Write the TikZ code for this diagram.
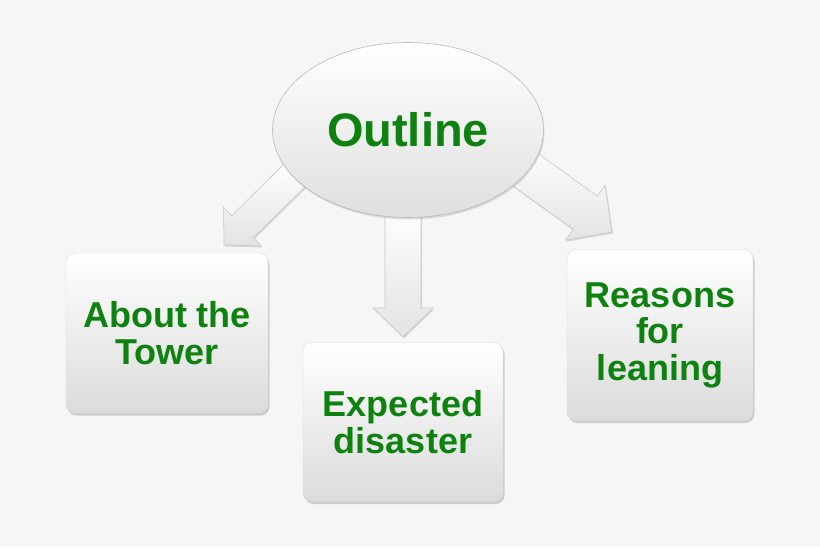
\documentclass[tikz,border=0pt]{standalone}
\usepackage{fontspec}
\setmainfont{Liberation Sans}
\usepackage{tikz}
\usetikzlibrary{shapes,shadows,calc}

\definecolor{bggrey}{HTML}{F6F6F6}
\definecolor{topicgreen}{HTML}{0E820E}

% block arrow: start, tip, shaft half width, head half width, head length
\newcommand{\blockarrow}[5]{%
  \coordinate (#1h) at ($(#2)!#5!(#1)$);
  \path[barrow] ($(#1)!#3!90:(#2)$) -- ($(#1h)!#3!90:(#2)$) -- ($(#1h)!#4!90:(#2)$)
    -- (#2) -- ($(#1h)!#4!-90:(#2)$) -- ($(#1h)!#3!-90:(#2)$) -- ($(#1)!#3!-90:(#2)$) -- cycle;
}

\begin{document}
\begin{tikzpicture}[x=1pt,y=-1pt]
    \tikzstyle{barrow}=[draw=gray!45,line width=0.6pt,top color=white,bottom color=gray!22,
      drop shadow={shadow xshift=1pt,shadow yshift=-1.5pt,opacity=0.25}]
    \tikzstyle{topic}=[rectangle,rounded corners=9pt,draw=gray!30,line width=0.4pt,
      top color=white,bottom color=gray!28,align=center,text=topicgreen,
      font=\bfseries\fontsize{36}{36.5}\selectfont,
      drop shadow={shadow xshift=1.5pt,shadow yshift=-2.5pt,opacity=0.35}]
    \tikzstyle{hub}=[ellipse,draw=gray!55,line width=0.6pt,top color=white,bottom color=gray!25,
      minimum width=271pt,minimum height=175pt,inner sep=0pt,text=topicgreen,
      font=\bfseries\fontsize{47}{50}\selectfont,
      drop shadow={shadow xshift=1pt,shadow yshift=-2pt,opacity=0.25}]
    \fill[bggrey] (0,0) rectangle (820,547);
    \useasboundingbox (0,0) rectangle (820,547);
    % arrow ends
    \coordinate (lstart) at (300,170);
    \coordinate (ltip) at (224,245);
    \coordinate (mstart) at (403,205);
    \coordinate (mtip) at (403,337);
    \coordinate (rstart) at (512,160);
    \coordinate (rtip) at (612,232);
    \blockarrow{lstart}{ltip}{15.5pt}{27pt}{26pt}
    \blockarrow{mstart}{mtip}{18pt}{30pt}{29pt}
    \blockarrow{rstart}{rtip}{20.5pt}{34pt}{33pt}
    \node[hub] (outline) at (408,130) {Outline};
    \node[topic,minimum width=202pt,minimum height=160pt] (tower) at (167,333) {About the\\Tower};
    \node[topic,minimum width=200pt,minimum height=159pt] (disaster) at (403,422) {Expected\\disaster};
    \node[topic,minimum width=186pt,minimum height=171pt] (leaning) at (660,335) {Reasons\\for\\leaning};
\end{tikzpicture}
\end{document}
